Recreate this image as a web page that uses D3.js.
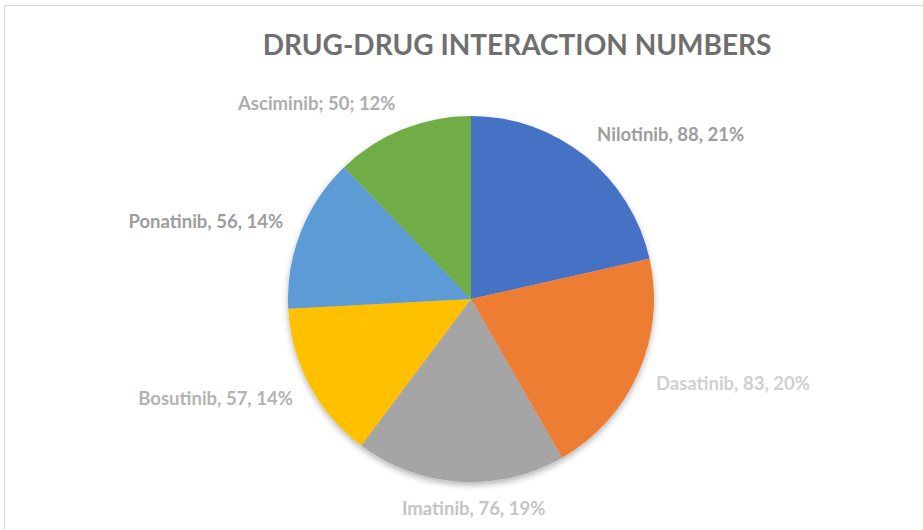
<!DOCTYPE html>
<html>
<head>
<meta charset="utf-8">
<script src="https://cdn.jsdelivr.net/npm/d3@7"></script>
<style>
  body { margin: 0; background: #fff; }
  text { font-family: Lato, "Open Sans", sans-serif; font-weight: 700; }
</style>
</head>
<body>
<script>
// chart values
let drugs = ['Nilotinib', 'Dasatinib', 'Imatinib', 'Bosutinib', 'Ponatinib', 'Asciminib']
let counts = [88, 83, 76, 57, 56, 50]
let percents = ['21%', '20%', '19%', '14%', '14%', '12%']
let separators = [', ', ', ', ', ', ', ', ', ', '; ']
let sliceColors = ['#4472C4', '#ED7D31', '#A5A5A5', '#FFC000', '#5B9BD5', '#70AD47']
let labelColors = ['#9d9d9d', '#d0d0d0', '#c4c4c4', '#b3b3b3', '#9d9d9d', '#adadad']

let data = drugs.map((d, i) => ({ name: d, value: counts[i], pct: percents[i], sep: separators[i], i: i }))

width = 923
height = 530
cx = 471
cy = 299
radius = 183

let svg = d3.select('body')
  .append('svg')
  .attr('width', width)
  .attr('height', height)

// chart frame (only top and left edges fall inside the picture)
svg.append('rect')
  .attr('x', 4.5)
  .attr('y', 5.5)
  .attr('width', width + 20)
  .attr('height', height + 20)
  .attr('fill', 'none')
  .attr('stroke', '#d9d9d9')

svg.append('text')
  .attr('x', 517)
  .attr('y', 55)
  .attr('text-anchor', 'middle')
  .attr('fill', '#6f6f6f')
  .style('font-size', '28px')
  .text('DRUG-DRUG INTERACTION NUMBERS')

let defs = svg.append('defs')
let shadow = defs.append('filter').attr('id', 'shadow')
  .attr('x', '-20%').attr('y', '-20%').attr('width', '140%').attr('height', '140%')
shadow.append('feGaussianBlur').attr('in', 'SourceAlpha').attr('stdDeviation', 3)
shadow.append('feOffset').attr('dy', 3).attr('result', 'b')
shadow.append('feComponentTransfer').append('feFuncA').attr('type', 'linear').attr('slope', 0.3)
let merge = shadow.append('feMerge')
merge.append('feMergeNode')
merge.append('feMergeNode').attr('in', 'SourceGraphic')

let pie = d3.pie()
  .value(d => d.value)
  .sort(null)

let arc = d3.arc()
  .innerRadius(0)
  .outerRadius(radius)

let arcs = pie(data)

let g = svg.append('g')
  .attr('transform', `translate(${cx}, ${cy})`)

g.append('g')
  .attr('filter', 'url(#shadow)')
  .selectAll('path')
  .data(arcs)
  .join('path')
    .attr('d', arc)
    .attr('fill', d => sliceColors[d.data.i])

// labels outside the end of each slice
let pad = 19
g.selectAll('text.lbl')
  .data(arcs)
  .join('text')
    .attr('class', 'lbl')
    .each(function(d) {
      let a = (d.startAngle + d.endAngle) / 2
      let s = Math.sin(a), c = Math.cos(a)
      let x = (radius + pad) * s
      let y = -(radius + pad) * c
      let anchor = s > 0.3 ? 'start' : (s < -0.3 ? 'end' : 'middle')
      d3.select(this)
        .attr('x', anchor === 'middle' ? x + 15 : x)
        .attr('y', y)
        .attr('dy', (0.35 - c * 0.45) + 'em')
        .attr('text-anchor', anchor)
    })
    .attr('fill', d => labelColors[d.data.i])
    .style('font-size', '18.5px')
    .text(d => d.data.name + d.data.sep + d.data.value + d.data.sep + d.data.pct)
</script>
</body>
</html>
